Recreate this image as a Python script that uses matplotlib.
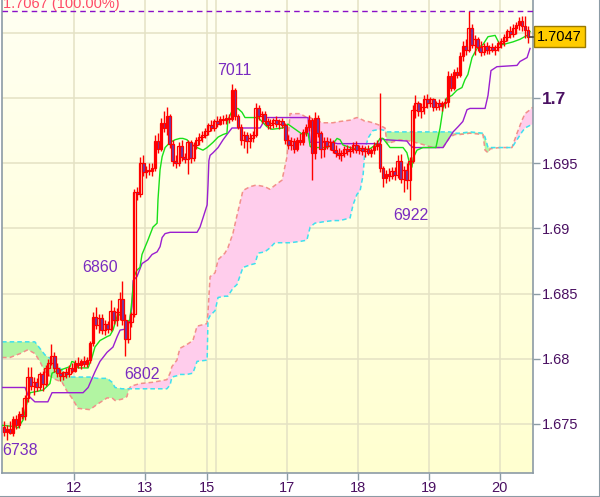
import numpy as np
import matplotlib
matplotlib.use("Agg")
import matplotlib.pyplot as plt
from matplotlib.colors import LinearSegmentedColormap
from matplotlib.transforms import blended_transform_factory

plt.rcParams["font.family"] = ["Liberation Sans", "DejaVu Sans"]

# hourly candles, bar 0 = first hour of the 11th
opens = [1.6748, 1.6744, 1.6746, 1.6743, 1.6754, 1.6749, 1.6758, 1.6756, 1.6770, 1.6786,
         1.6779, 1.6782, 1.6778, 1.6788, 1.6781, 1.6793, 1.6797, 1.6802, 1.6793, 1.6789,
         1.6787, 1.6790, 1.6788, 1.6793, 1.6791, 1.6797, 1.6795, 1.6798, 1.6796, 1.6799,
         1.6812, 1.6832, 1.6826, 1.6831, 1.6822, 1.6827, 1.6823, 1.6837, 1.6830, 1.6836,
         1.6846, 1.6830, 1.6815, 1.6828, 1.6834, 1.6928, 1.6926, 1.6950, 1.6943, 1.6945,
         1.6944, 1.6946, 1.6967, 1.6961, 1.6981, 1.6977, 1.6986, 1.6965, 1.6952, 1.6950,
         1.6963, 1.6955, 1.6953, 1.6966, 1.6954, 1.6964, 1.6968, 1.6970, 1.6972, 1.6975,
         1.6979, 1.6977, 1.6982, 1.6980, 1.6984, 1.6983, 1.6985, 1.6984, 1.7006, 1.6986,
         1.6978, 1.6968, 1.6972, 1.6967, 1.6969, 1.6972, 1.6992, 1.6986, 1.6988, 1.6982,
         1.6979, 1.6981, 1.6983, 1.6980, 1.6982, 1.6979, 1.6968, 1.6964, 1.6967, 1.6961,
         1.6968, 1.6966, 1.6974, 1.6978, 1.6983, 1.6958, 1.6985, 1.6973, 1.6961, 1.6967,
         1.6963, 1.6966, 1.6960, 1.6958, 1.6956, 1.6958, 1.6961, 1.6959, 1.6961, 1.6964,
         1.6960, 1.6962, 1.6959, 1.6961, 1.6958, 1.6960, 1.6963, 1.6965, 1.6946, 1.6939,
         1.6942, 1.6940, 1.6944, 1.6941, 1.6952, 1.6938, 1.6945, 1.6937, 1.6952, 1.6991,
         1.6996, 1.6990, 1.6993, 1.6999, 1.6996, 1.6999, 1.6993, 1.6996, 1.6994, 1.6996,
         1.6997, 1.7017, 1.7008, 1.7020, 1.7018, 1.7032, 1.7040, 1.7037, 1.7054, 1.7041,
         1.7045, 1.7039, 1.7035, 1.7040, 1.7037, 1.7039, 1.7037, 1.7039, 1.7042, 1.7044,
         1.7047, 1.7051, 1.7049, 1.7054, 1.7056, 1.7059, 1.7055, 1.7052]
highs = [1.6752, 1.6749, 1.6752, 1.6756, 1.6757, 1.6760, 1.6763, 1.6772, 1.6794, 1.6794,
         1.6786, 1.6785, 1.6790, 1.6791, 1.6795, 1.6800, 1.6811, 1.6805, 1.6797, 1.6792,
         1.6791, 1.6793, 1.6795, 1.6797, 1.6799, 1.6801, 1.6800, 1.6802, 1.6801, 1.6814,
         1.6836, 1.6840, 1.6834, 1.6834, 1.6830, 1.6829, 1.6845, 1.6840, 1.6839, 1.6851,
         1.6860, 1.6834, 1.6829, 1.6836, 1.6930, 1.6932, 1.6955, 1.6956, 1.6948, 1.6950,
         1.6950, 1.6972, 1.6973, 1.6985, 1.6990, 1.6993, 1.6988, 1.6968, 1.6956, 1.6966,
         1.6968, 1.6958, 1.6968, 1.6968, 1.6966, 1.6970, 1.6973, 1.6975, 1.6977, 1.6981,
         1.6983, 1.6984, 1.6986, 1.6986, 1.6987, 1.6988, 1.6988, 1.7011, 1.7008, 1.6988,
         1.6980, 1.6975, 1.6974, 1.6973, 1.6975, 1.6996, 1.6995, 1.6990, 1.6990, 1.6985,
         1.6984, 1.6985, 1.6986, 1.6984, 1.6985, 1.6981, 1.6972, 1.6970, 1.6969, 1.6970,
         1.6973, 1.6976, 1.6980, 1.6987, 1.6985, 1.6989, 1.6987, 1.6975, 1.6970, 1.6970,
         1.6969, 1.6968, 1.6964, 1.6962, 1.6960, 1.6963, 1.6964, 1.6963, 1.6966, 1.6967,
         1.6964, 1.6964, 1.6963, 1.6964, 1.6962, 1.6966, 1.6968, 1.7004, 1.6948, 1.6945,
         1.6946, 1.6947, 1.6947, 1.6956, 1.6957, 1.6948, 1.6950, 1.6955, 1.6995, 1.7002,
         1.6998, 1.6996, 1.7002, 1.7003, 1.7001, 1.7000, 1.6998, 1.6999, 1.6998, 1.7000,
         1.7021, 1.7019, 1.7022, 1.7024, 1.7035, 1.7044, 1.7045, 1.7067, 1.7057, 1.7048,
         1.7047, 1.7044, 1.7042, 1.7043, 1.7041, 1.7042, 1.7041, 1.7044, 1.7046, 1.7049,
         1.7053, 1.7055, 1.7057, 1.7058, 1.7062, 1.7063, 1.7063, 1.7055]
lows = [1.6741, 1.6738, 1.6742, 1.6741, 1.6746, 1.6747, 1.6754, 1.6753, 1.6767, 1.6776,
        1.6772, 1.6775, 1.6776, 1.6775, 1.6779, 1.6787, 1.6795, 1.6790, 1.6786, 1.6783,
        1.6784, 1.6785, 1.6786, 1.6789, 1.6790, 1.6793, 1.6792, 1.6794, 1.6794, 1.6797,
        1.6810, 1.6823, 1.6820, 1.6819, 1.6818, 1.6820, 1.6821, 1.6827, 1.6825, 1.6830,
        1.6826, 1.6802, 1.6812, 1.6824, 1.6832, 1.6922, 1.6924, 1.6940, 1.6939, 1.6941,
        1.6940, 1.6944, 1.6958, 1.6959, 1.6974, 1.6972, 1.6962, 1.6948, 1.6946, 1.6948,
        1.6952, 1.6950, 1.6942, 1.6950, 1.6952, 1.6961, 1.6964, 1.6966, 1.6969, 1.6972,
        1.6975, 1.6975, 1.6978, 1.6979, 1.6980, 1.6980, 1.6981, 1.6982, 1.6983, 1.6976,
        1.6964, 1.6962, 1.6958, 1.6962, 1.6966, 1.6970, 1.6983, 1.6981, 1.6980, 1.6976,
        1.6976, 1.6977, 1.6978, 1.6976, 1.6977, 1.6965, 1.6961, 1.6960, 1.6958, 1.6959,
        1.6964, 1.6964, 1.6971, 1.6975, 1.6937, 1.6953, 1.6970, 1.6954, 1.6955, 1.6961,
        1.6960, 1.6958, 1.6955, 1.6953, 1.6952, 1.6955, 1.6956, 1.6955, 1.6958, 1.6958,
        1.6957, 1.6956, 1.6955, 1.6956, 1.6955, 1.6957, 1.6960, 1.6943, 1.6932, 1.6935,
        1.6936, 1.6938, 1.6937, 1.6939, 1.6935, 1.6928, 1.6930, 1.6922, 1.6950, 1.6985,
        1.6986, 1.6985, 1.6988, 1.6992, 1.6993, 1.6990, 1.6991, 1.6991, 1.6990, 1.6992,
        1.6993, 1.7005, 1.7006, 1.7015, 1.7016, 1.7028, 1.7033, 1.7035, 1.7038, 1.7033,
        1.7036, 1.7032, 1.7033, 1.7034, 1.7034, 1.7035, 1.7033, 1.7036, 1.7038, 1.7040,
        1.7044, 1.7046, 1.7047, 1.7049, 1.7052, 1.7051, 1.7046, 1.7042]
closes = [1.6744, 1.6746, 1.6743, 1.6754, 1.6749, 1.6758, 1.6756, 1.6770, 1.6786, 1.6779,
          1.6782, 1.6778, 1.6788, 1.6781, 1.6793, 1.6797, 1.6802, 1.6793, 1.6789, 1.6787,
          1.6790, 1.6788, 1.6793, 1.6791, 1.6797, 1.6795, 1.6798, 1.6796, 1.6799, 1.6812,
          1.6832, 1.6826, 1.6831, 1.6822, 1.6827, 1.6823, 1.6837, 1.6830, 1.6836, 1.6846,
          1.6830, 1.6815, 1.6828, 1.6834, 1.6928, 1.6926, 1.6950, 1.6943, 1.6945, 1.6944,
          1.6946, 1.6967, 1.6961, 1.6981, 1.6977, 1.6986, 1.6965, 1.6952, 1.6950, 1.6963,
          1.6955, 1.6953, 1.6966, 1.6954, 1.6964, 1.6968, 1.6970, 1.6972, 1.6975, 1.6979,
          1.6977, 1.6982, 1.6980, 1.6984, 1.6983, 1.6985, 1.6984, 1.7006, 1.6986, 1.6978,
          1.6968, 1.6972, 1.6967, 1.6969, 1.6972, 1.6992, 1.6986, 1.6988, 1.6982, 1.6979,
          1.6981, 1.6983, 1.6980, 1.6982, 1.6979, 1.6968, 1.6964, 1.6967, 1.6961, 1.6968,
          1.6966, 1.6974, 1.6978, 1.6983, 1.6958, 1.6985, 1.6973, 1.6961, 1.6967, 1.6963,
          1.6966, 1.6960, 1.6958, 1.6956, 1.6958, 1.6961, 1.6959, 1.6961, 1.6964, 1.6960,
          1.6962, 1.6959, 1.6961, 1.6958, 1.6960, 1.6963, 1.6965, 1.6946, 1.6939, 1.6942,
          1.6940, 1.6944, 1.6941, 1.6952, 1.6938, 1.6945, 1.6937, 1.6952, 1.6991, 1.6996,
          1.6990, 1.6993, 1.6999, 1.6996, 1.6999, 1.6993, 1.6996, 1.6994, 1.6996, 1.6997,
          1.7017, 1.7008, 1.7020, 1.7018, 1.7032, 1.7040, 1.7037, 1.7054, 1.7041, 1.7045,
          1.7039, 1.7035, 1.7040, 1.7037, 1.7039, 1.7037, 1.7039, 1.7042, 1.7044, 1.7047,
          1.7051, 1.7049, 1.7054, 1.7056, 1.7059, 1.7055, 1.7052, 1.7047]

# conversion line (green) and base line (purple), as (bar, price) vertices
tenkan_x = [-0.7, 3.7, 4.7, 6.4, 7.7, 8.8, 11.1, 13.2, 15.5, 16.2, 17.2, 22.3, 22.9, 24.0,
            25.0, 28.4, 29.7, 30.7, 32.4, 34.8, 35.8, 36.8, 38.5, 40.2, 41.5, 42.5, 43.2,
            43.9, 44.9, 45.9, 46.6, 48.6, 50.3, 51.7, 52.0, 52.7, 53.4, 54.4, 56.1, 57.8,
            59.4, 60.4, 61.8, 62.8, 65.2, 67.2, 68.6, 69.6, 70.6, 72.3, 74.0, 75.3, 75.6,
            77.0, 79.0, 80.4, 81.4, 85.8, 87.1, 88.8, 90.5, 94.2, 95.9, 99.0, 100.9, 102.7,
            103.4, 104.0, 109.1, 110.8, 112.5, 113.5, 114.5, 116.9, 120.3, 123.6, 126.0,
            127.0, 128.0, 129.4, 130.4, 134.8, 136.1, 137.1, 137.8, 138.2, 139.5, 141.5,
            145.9, 147.3, 148.3, 149.6, 151.3, 153.0, 154.7, 155.7, 156.7, 158.1, 159.8,
            161.8, 163.5, 165.9, 167.5, 168.6, 171.9, 174.3, 176.7, 177.7]
tenkan_y = [1.6749, 1.6748, 1.6747, 1.6753, 1.6766, 1.6774, 1.6775, 1.6776, 1.6781, 1.6789,
            1.6790, 1.6794, 1.6798, 1.6797, 1.6793, 1.6793, 1.6801, 1.6809, 1.6814, 1.6817,
            1.6818, 1.6822, 1.6835, 1.6831, 1.6828, 1.6830, 1.6845, 1.6863, 1.6868, 1.6870,
            1.6880, 1.6891, 1.6901, 1.6904, 1.6922, 1.6945, 1.6955, 1.6962, 1.6966, 1.6968,
            1.6969, 1.6969, 1.6968, 1.6965, 1.6962, 1.6960, 1.6962, 1.6964, 1.6966, 1.6970,
            1.6972, 1.6973, 1.6983, 1.6990, 1.6992, 1.6989, 1.6985, 1.6985, 1.6982, 1.6978,
            1.6976, 1.6977, 1.6980, 1.6975, 1.6972, 1.6973, 1.6963, 1.6962, 1.6962, 1.6964,
            1.6969, 1.6968, 1.6964, 1.6962, 1.6960, 1.6961, 1.6965, 1.6969, 1.6969, 1.6965,
            1.6962, 1.6962, 1.6958, 1.6949, 1.6947, 1.6954, 1.6960, 1.6962, 1.6962, 1.6977,
            1.6992, 1.7000, 1.7002, 1.7006, 1.7008, 1.7014, 1.7018, 1.7031, 1.7038, 1.7041,
            1.7047, 1.7048, 1.7041, 1.7041, 1.7043, 1.7045, 1.7048, 1.7051]
kijun_x = [-0.7, 7.1, 8.1, 10.4, 14.8, 16.2, 26.7, 28.4, 30.7, 32.4, 34.8, 36.8, 38.2, 39.2,
           41.5, 42.5, 43.2, 43.6, 44.9, 46.6, 48.6, 50.0, 51.7, 52.7, 53.4, 54.4, 56.1,
           65.2, 66.2, 67.2, 68.6, 68.9, 69.2, 69.6, 70.6, 72.3, 74.0, 75.3, 77.0, 86.5,
           87.5, 88.8, 102.7, 103.4, 111.1, 112.5, 127.0, 127.7, 128.7, 136.1, 137.1, 138.2,
           148.3, 150.6, 151.7, 153.4, 155.0, 156.4, 157.4, 162.5, 163.5, 164.5, 166.5,
           173.3, 174.3, 176.7, 177.7]
kijun_y = [1.6778, 1.6778, 1.6772, 1.6767, 1.6767, 1.6774, 1.6774, 1.6778, 1.6790, 1.6798,
           1.6805, 1.6809, 1.6817, 1.6822, 1.6823, 1.6830, 1.6840, 1.6860, 1.6863, 1.6873,
           1.6876, 1.6880, 1.6882, 1.6886, 1.6893, 1.6896, 1.6897, 1.6897, 1.6901, 1.6908,
           1.6918, 1.6933, 1.6952, 1.6956, 1.6958, 1.6962, 1.6968, 1.6972, 1.6977, 1.6977,
           1.6981, 1.6985, 1.6985, 1.6966, 1.6966, 1.6965, 1.6965, 1.6969, 1.6968, 1.6967,
           1.6964, 1.6962, 1.6962, 1.6970, 1.6974, 1.6978, 1.6982, 1.6991, 1.6992, 1.6992,
           1.7002, 1.7021, 1.7024, 1.7025, 1.7028, 1.7031, 1.7038]

# cloud: span A (cyan) and span B (salmon) on shared bar positions
cloud_x = [-0.7, 2.0, 5.4, 8.1, 10.4, 12.1, 13.8, 16.5, 19.6, 21.3, 22.9, 25.0, 29.0, 31.4,
           34.8, 36.5, 37.5, 39.8, 41.5, 42.2, 42.9, 45.9, 50.3, 55.0, 56.1, 56.7, 58.4,
           59.4, 61.8, 63.8, 65.2, 68.6, 68.9, 69.6, 71.3, 72.3, 74.6, 75.6, 77.3, 78.7,
           80.7, 83.1, 84.8, 85.8, 88.1, 89.8, 91.5, 93.9, 95.6, 96.6, 100.0, 102.3, 103.4,
           105.0, 107.7, 111.1, 113.5, 116.9, 117.9, 119.2, 120.3, 121.3, 121.9, 122.9,
           124.6, 127.0, 128.7, 129.4, 133.8, 137.1, 140.5, 144.9, 148.3, 150.6, 152.3,
           154.0, 157.4, 161.8, 162.5, 163.5, 164.2, 167.5, 171.6, 173.3, 175.0, 176.0,
           177.7, 178.7]
span_a = [1.6813, 1.6813, 1.6813, 1.6813, 1.6813, 1.6808, 1.6803, 1.6799, 1.6791, 1.6787,
          1.6786, 1.6786, 1.6786, 1.6785, 1.6785, 1.6782, 1.6778, 1.6777, 1.6777, 1.6777,
          1.6777, 1.6777, 1.6777, 1.6777, 1.6780, 1.6786, 1.6787, 1.6788, 1.6788, 1.6789,
          1.6798, 1.6799, 1.6830, 1.6833, 1.6837, 1.6847, 1.6848, 1.6848, 1.6854, 1.6857,
          1.6870, 1.6872, 1.6873, 1.6881, 1.6882, 1.6885, 1.6889, 1.6889, 1.6889, 1.6889,
          1.6890, 1.6891, 1.6901, 1.6904, 1.6905, 1.6906, 1.6906, 1.6908, 1.6918, 1.6926,
          1.6929, 1.6941, 1.6959, 1.6969, 1.6975, 1.6976, 1.6975, 1.6974, 1.6974, 1.6974,
          1.6974, 1.6974, 1.6974, 1.6974, 1.6973, 1.6973, 1.6974, 1.6973, 1.6970, 1.6962,
          1.6962, 1.6962, 1.6962, 1.6968, 1.6974, 1.6977, 1.6979, 1.6980]
span_b = [1.6801, 1.6801, 1.6804, 1.6807, 1.6804, 1.6798, 1.6790, 1.6785, 1.6782, 1.6775,
          1.6770, 1.6762, 1.6761, 1.6765, 1.6770, 1.6770, 1.6768, 1.6769, 1.6771, 1.6777,
          1.6779, 1.6781, 1.6782, 1.6784, 1.6789, 1.6794, 1.6799, 1.6808, 1.6811, 1.6814,
          1.6825, 1.6827, 1.6836, 1.6863, 1.6866, 1.6876, 1.6881, 1.6885, 1.6896, 1.6910,
          1.6929, 1.6932, 1.6933, 1.6933, 1.6932, 1.6930, 1.6933, 1.6937, 1.6955, 1.6988,
          1.6988, 1.6985, 1.6985, 1.6983, 1.6981, 1.6981, 1.6982, 1.6983, 1.6984, 1.6985,
          1.6984, 1.6983, 1.6982, 1.6982, 1.6981, 1.6979, 1.6977, 1.6965, 1.6968, 1.6967,
          1.6965, 1.6962, 1.6962, 1.6970, 1.6972, 1.6972, 1.6973, 1.6972, 1.6960, 1.6958,
          1.6961, 1.6962, 1.6962, 1.6973, 1.6983, 1.6988, 1.6991, 1.6993]

day_pos = [23.5, 47.5, 68.5, 95.5, 119.5, 143.5, 167.5]
day_labels = ["12", "13", "15", "17", "18", "19", "20"]
extra_grid = [71.5]
price_ticks = [1.675, 1.68, 1.685, 1.69, 1.695, 1.7, 1.705]
price_labels = ["1.675", "1.68", "1.685", "1.69", "1.695", "1.7", ""]
marks = [("6738", -0.6, 1.6730, "left"), ("6802", 46.6, 1.6788, "center"),
         ("6860", 32.4, 1.6870, "center"), ("7011", 77.7, 1.7021, "center"),
         ("6922", 137.5, 1.6910, "center")]
top_price = 1.7067
last_price = 1.7047

XMIN, XMAX = -0.7, 178.7
YMIN, YMAX = 1.671242, 1.707515
TXT = "#4a1062"
GRID = "#e4e2c4"
SPINE = "#8c9ba5"

fig = plt.figure(figsize=(6.0, 4.97), dpi=100)
ax = fig.add_axes([2 / 600, 24 / 497, 531 / 600, 473 / 497])

cmap = LinearSegmentedColormap.from_list("bg", ["#fffff2", "#ffffd0"])
ax.imshow(np.linspace(0, 1, 256).reshape(-1, 1), extent=[XMIN, XMAX, YMIN, YMAX],
          aspect="auto", cmap=cmap, zorder=0, origin="upper")

for p in price_ticks:
    ax.axhline(p, color=GRID, lw=1.1, zorder=0.5)
for d in day_pos + extra_grid:
    ax.axvline(d, color=GRID, lw=1.1, zorder=0.5)

cx = np.array(cloud_x)
a = np.array(span_a)
b = np.array(span_b)
ax.fill_between(cx, a, b, where=a >= b, interpolate=True, color="#b2f5a2", lw=0, zorder=1)
ax.fill_between(cx, a, b, where=a < b, interpolate=True, color="#ffcdec", lw=0, zorder=1)
ax.plot(cx, b, color="#f2908a", lw=1.1, ls=(0, (3, 2)), zorder=2)
ax.plot(cx, a, color="#3fe0ee", lw=1.1, ls=(0, (3, 2)), zorder=2)

ax.plot(kijun_x, kijun_y, color="#9a1fd0", lw=1.0, zorder=3)
ax.plot(tenkan_x, tenkan_y, color="#19e019", lw=1.0, zorder=3)

o = np.array(opens)
c = np.array(closes)
xs = np.arange(len(o))
ax.vlines(xs, lows, highs, color="#ff0000", lw=1.0, zorder=4)
up = c >= o
ax.bar(xs[up], np.maximum(np.abs(c - o), 0.00003)[up], bottom=np.minimum(o, c)[up],
       width=0.9, facecolor="none", edgecolor="#ff0000", lw=0.9, zorder=5)
ax.bar(xs[~up], np.abs(c - o)[~up], bottom=np.minimum(o, c)[~up],
       width=0.9, facecolor="#6b3aa8", edgecolor="#ff0000", lw=0.9, zorder=5)

ax.axhline(top_price, color="#8a10c8", lw=1.0, ls=(0, (4, 3)), zorder=6)

for txt, xp, yp, ha in marks:
    ax.text(xp, yp, txt, color="#7a2cc0", fontsize=11.5, ha=ha, va="center", zorder=7)

ax.set_xlim(XMIN, XMAX)
ax.set_ylim(YMIN, YMAX)
ax.set_xticks(day_pos)
ax.set_xticklabels(day_labels)
ax.yaxis.tick_right()
ax.set_yticks(price_ticks)
ax.set_yticklabels(price_labels)
ax.tick_params(axis="both", colors=SPINE, labelcolor=TXT, labelsize=10.5, length=5,
               width=1, direction="out")
ax.tick_params(axis="x", pad=0.5)
ax.tick_params(axis="y", pad=1.5)
for lab in ax.get_yticklabels():
    if lab.get_text() == "1.7":
        lab.set_fontweight("bold")
        lab.set_fontsize(12.5)
for name, sp in ax.spines.items():
    sp.set_color(SPINE)
    sp.set_linewidth(1.2)
ax.spines["top"].set_visible(False)

tr = blended_transform_factory(ax.transAxes, ax.transData)
ax.text(1.05, last_price, f"{last_price:.4f}", transform=tr, ha="center", va="center",
        fontsize=10.5, color="#000000", clip_on=False, zorder=8,
        bbox=dict(boxstyle="square,pad=0.22", fc="#ffcc00", ec="#9a7a00", lw=1))
ax.plot([0.995, 1.0], [last_price, last_price], transform=tr, color="#444444",
        lw=1.2, clip_on=False, zorder=8)

fig.text(3 / 600, 489 / 497, f"{top_price:.4f} (100.00%)", color="#ff4a66",
         fontsize=10.5, ha="left", va="baseline")

fig.add_artist(plt.Line2D([0, 1, 1], [0.5 / 497, 0.5 / 497, 1], transform=fig.transFigure,
                          color=SPINE, lw=1.5))

fig.savefig("out.png", dpi=100)
